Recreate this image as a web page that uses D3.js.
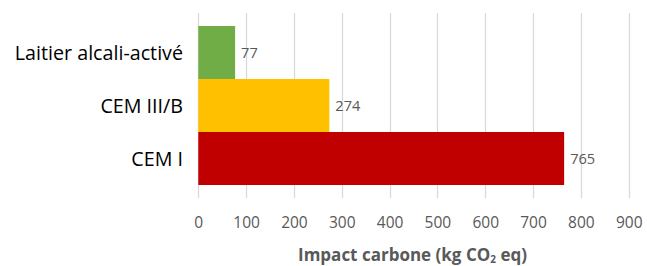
<!DOCTYPE html>
<html><head><meta charset="utf-8">
<script src="https://cdn.jsdelivr.net/npm/d3@7"></script>
<style>body{margin:0;background:#fff}svg{display:block}</style>
</head><body>
<script>
const categories = ["Laitier alcali-activé", "CEM III/B", "CEM I"];
const values = [77, 274, 765];
const colors = ["#70AD47", "#FFC000", "#C00000"];
const tickValues = [0,100,200,300,400,500,600,700,800,900];
const axisTitle = "Impact carbone (kg CO";

const W = 647, H = 266;
const svg = d3.select("body").append("svg").attr("width", W).attr("height", H);
const x = d3.scaleLinear().domain([0, 900]).range([198.3, 628.7]);
const y = d3.scaleBand().domain(categories).range([13, 198]).paddingInner(0).paddingOuter(0.245);
const font = "'Open Sans', sans-serif";

// gridlines
svg.append("g").selectAll("line").data(tickValues).join("line")
  .attr("x1", d => Math.round(x(d)) + 0.5).attr("x2", d => Math.round(x(d)) + 0.5)
  .attr("y1", 13).attr("y2", 198)
  .attr("stroke", "#d9d9d9").attr("stroke-width", 1.3);

// bars
svg.append("g").selectAll("rect").data(values).join("rect")
  .attr("x", x(0)).attr("y", (d, i) => y(categories[i]))
  .attr("width", d => x(d) - x(0)).attr("height", y.bandwidth())
  .attr("fill", (d, i) => colors[i]);

// value labels
svg.append("g").selectAll("text").data(values).join("text")
  .attr("x", d => x(d) + 6).attr("y", (d, i) => y(categories[i]) + y.bandwidth() / 2)
  .attr("dy", "0.36em").attr("font-family", font).attr("font-size", 14.6)
  .attr("fill", "#595959").text(d => d);

// category labels
svg.append("g").selectAll("text").data(categories).join("text")
  .attr("x", 183).attr("y", d => y(d) + y.bandwidth() / 2)
  .attr("dy", "0.36em").attr("text-anchor", "end")
  .attr("font-family", font).attr("font-size", 19.7).attr("fill", "#000").text(d => d);

// x axis tick labels
const xAxis = d3.axisBottom(x).tickValues(tickValues).tickSize(0).tickPadding(0);
const ax = svg.append("g").attr("transform", "translate(0,217)").call(xAxis);
ax.select(".domain").remove();
ax.selectAll("text").attr("font-family", font).attr("font-size", 15.5).attr("fill", "#595959").attr("dy", "0.71em");

// axis title
const t = svg.append("text").attr("x", 412.5).attr("y", 261).attr("text-anchor", "middle")
  .attr("font-family", font).attr("font-size", 17).attr("font-weight", "bold").attr("fill", "#595959");
t.append("tspan").text(axisTitle);
t.append("tspan").attr("font-size", 10).attr("dy", 1.5).text("2");
t.append("tspan").attr("dy", -1.5).text(" eq)");
</script>
</body></html>
